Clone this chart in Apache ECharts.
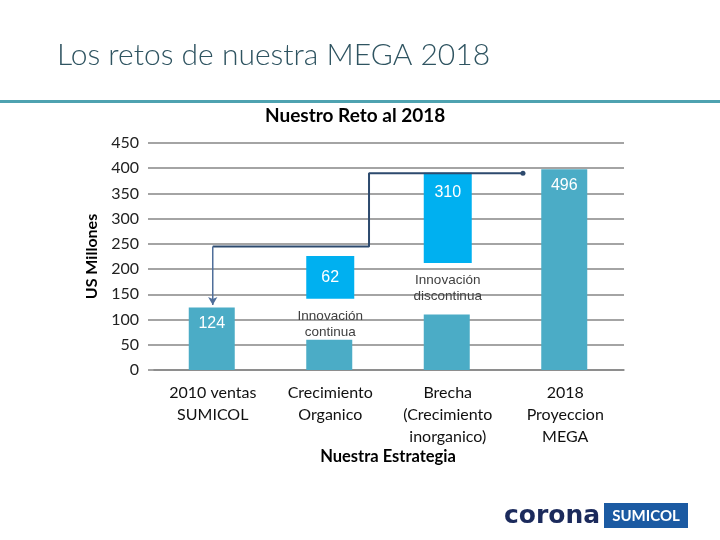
<!DOCTYPE html>
<html><head><meta charset="utf-8">
<script src="https://cdn.jsdelivr.net/npm/echarts@6/dist/echarts.min.js"></script>
<style>html,body{margin:0;padding:0;background:#fff}#c{width:720px;height:540px}</style>
</head><body><div id="c"></div>
<script>
const categories = ['2010 ventas\nSUMICOL', 'Crecimiento\nOrganico', 'Brecha\n(Crecimiento\ninorganico)', '2018\nProyeccion\nMEGA'];
const barValues = [124, 60, 110, 398];
const barLabels = ['124', '', '', '496'];
const floatBase = [null, 141, 212, null];
const floatValues = [null, 85, 179, null];
const floatLabels = ['', '62', '310', ''];
const notes = ['', 'Innovación\ncontinua', 'Innovación\ndiscontinua', ''];
const connectorX = [0.5, 1.83, 1.83, 3.14];
const connectorY = [245, 245, 390, 390];
const arrowX = [0.5, 0.5];
const arrowY = [245, 129];

const chart = echarts.init(document.getElementById('c'));
const font = 'Lato, "Open Sans", sans-serif';
const arial = '"Liberation Sans", Arial, sans-serif';
chart.setOption({
  animation: false,
  title: [{
    text: 'Los retos de nuestra MEGA 2018', left: 52, top: 35,
    textStyle: { fontFamily: font, fontWeight: 300, fontSize: 30, color: '#2f5461' }
  }, {
    text: 'Nuestro Reto al 2018', left: 260, top: 101,
    textStyle: { fontFamily: font, fontWeight: 'bold', fontSize: 19, color: '#000' }
  }],
  grid: { left: 154, right: 96, top: 143, bottom: 170 },
  xAxis: [{
    type: 'category', data: categories,
    axisLine: { lineStyle: { color: '#868686', width: 1.5 } },
    axisTick: { show: false },
    axisLabel: { fontFamily: font, fontSize: 16, color: '#111', lineHeight: 22, margin: 12 }
  }, {
    type: 'value', min: 0, max: 4, show: false
  }],
  yAxis: {
    type: 'value', min: 0, max: 450, interval: 50,
    name: 'US Millones', nameLocation: 'middle', nameGap: 46,
    nameTextStyle: { fontFamily: font, fontWeight: 'bold', fontSize: 16, color: '#000' },
    axisLine: { show: false },
    axisTick: { show: true, length: 6, lineStyle: { color: '#868686', width: 1.5 } },
    axisLabel: { fontFamily: font, fontSize: 16, color: '#222', margin: 15 },
    splitLine: { lineStyle: { color: '#868686', width: 1.5 } }
  },
  series: [{
    type: 'bar', data: barValues, barWidth: 46, barGap: '-100%',
    itemStyle: { color: '#4bacc6' },
    label: {
      show: true, position: 'insideTop', distance: 8, color: '#fff', fontSize: 16,
      fontFamily: arial, formatter: p => barLabels[p.dataIndex]
    }
  }, {
    type: 'bar', stack: 'f', data: floatBase, barWidth: 48,
    itemStyle: { color: 'rgba(0,0,0,0)' },
    label: {
      show: true, position: 'insideTop', distance: 9, color: '#404040', fontSize: 13.5,
      fontFamily: arial, lineHeight: 16, formatter: p => notes[p.dataIndex]
    }
  }, {
    type: 'bar', stack: 'f', barWidth: 48,
    data: floatValues.map((v, i) => ({
      value: v,
      label: i === 1 ? { position: 'inside' } : { position: 'insideTop', distance: 12 }
    })),
    itemStyle: { color: '#00b0f0' },
    label: {
      show: true, color: '#fff', fontSize: 16, fontFamily: arial,
      formatter: p => floatLabels[p.dataIndex]
    }
  }, {
    type: 'line', xAxisIndex: 1, data: connectorX.map((x, i) => ({
      value: [x, connectorY[i]],
      symbol: i === connectorX.length - 1 ? 'circle' : 'none', symbolSize: 5
    })),
    lineStyle: { color: '#2d4a6e', width: 2 }, itemStyle: { color: '#2d4a6e' },
    silent: true
  }, {
    type: 'line', xAxisIndex: 1, data: arrowX.map((x, i) => ({
      value: [x, arrowY[i]],
      symbol: i === 1 ? 'arrow' : 'none', symbolSize: [7, 8], symbolRotate: 180
    })),
    lineStyle: { color: '#4f6e9a', width: 1.5 }, itemStyle: { color: '#4f6e9a' },
    silent: true
  }],
  graphic: [{
    type: 'rect', shape: { x: 0, y: 100, width: 720, height: 3 },
    style: { fill: '#4ea2b0' }
  }, {
    type: 'text', x: 388, y: 457,
    style: { text: 'Nuestra Estrategia', fontFamily: font, fontWeight: 'bold', fontSize: 16.5, fill: '#000', align: 'center', verticalAlign: 'middle' }
  }, {
    type: 'text', x: 504, y: 516,
    style: { text: 'corona', fontFamily: 'DejaVu Sans, sans-serif', fontWeight: 'bold', fontSize: 25, fill: '#1b2a5c', verticalAlign: 'middle' }
  }, {
    type: 'rect', shape: { x: 604, y: 503, width: 84, height: 25 },
    style: { fill: '#1b5aa2' }
  }, {
    type: 'text', x: 646, y: 516,
    style: { text: 'SUMICOL', fontFamily: font, fontWeight: 'bold', fontSize: 15, fill: '#fff', align: 'center', verticalAlign: 'middle' }
  }]
});
</script></body></html>
